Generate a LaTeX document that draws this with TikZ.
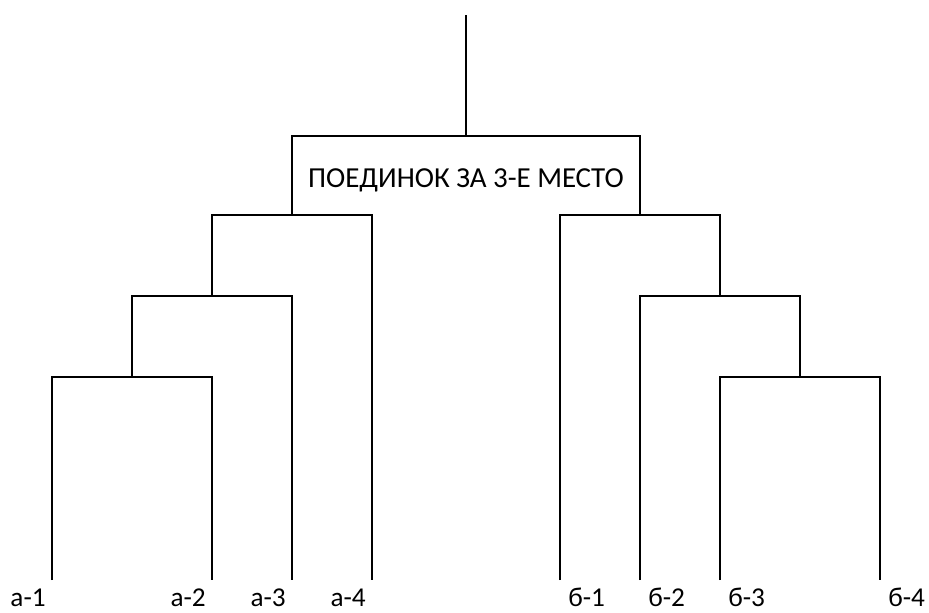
\documentclass[tikz,border=0pt]{standalone}
\usepackage{fontspec}
\setmainfont{Carlito}
\begin{document}
\begin{tikzpicture}[x=.02cm, y=-.02cm, line width=1.5pt]
    \useasboundingbox (0,0) rectangle (929,612);

    % final
    \draw (466,15) -- (466,136);
    \draw (292,215) -- (292,136) -- (640,136) -- (640,215);
    \node[font=\fontsize{16.5}{20}\selectfont] (title) at (466,180) {ПОЕДИНОК ЗА 3-Е МЕСТО};

    % left bracket
    \draw (212,296) -- (212,215) -- (372,215) -- (372,580);
    \draw (132,377) -- (132,296) -- (292,296) -- (292,580);
    \draw (52,580) -- (52,377) -- (212,377) -- (212,580);

    % right bracket
    \draw (560,580) -- (560,215) -- (720,215) -- (720,296);
    \draw (640,580) -- (640,296) -- (800,296) -- (800,377);
    \draw (720,580) -- (720,377) -- (880,377) -- (880,580);

    \foreach \x/\t in {52/1,212/2,292/3,372/4}
    \node[anchor=base east, inner sep=0pt, font=\fontsize{15.5}{19}\selectfont] (a\t) at (\x-5,606) {а-\t};
    \foreach \x/\t in {560/1,640/2,720/3,880/4}
    \node[anchor=base west, inner sep=0pt, font=\fontsize{15.5}{19}\selectfont] (b\t) at (\x+7,606) {б-\t};

  \end{tikzpicture}
\end{document}
